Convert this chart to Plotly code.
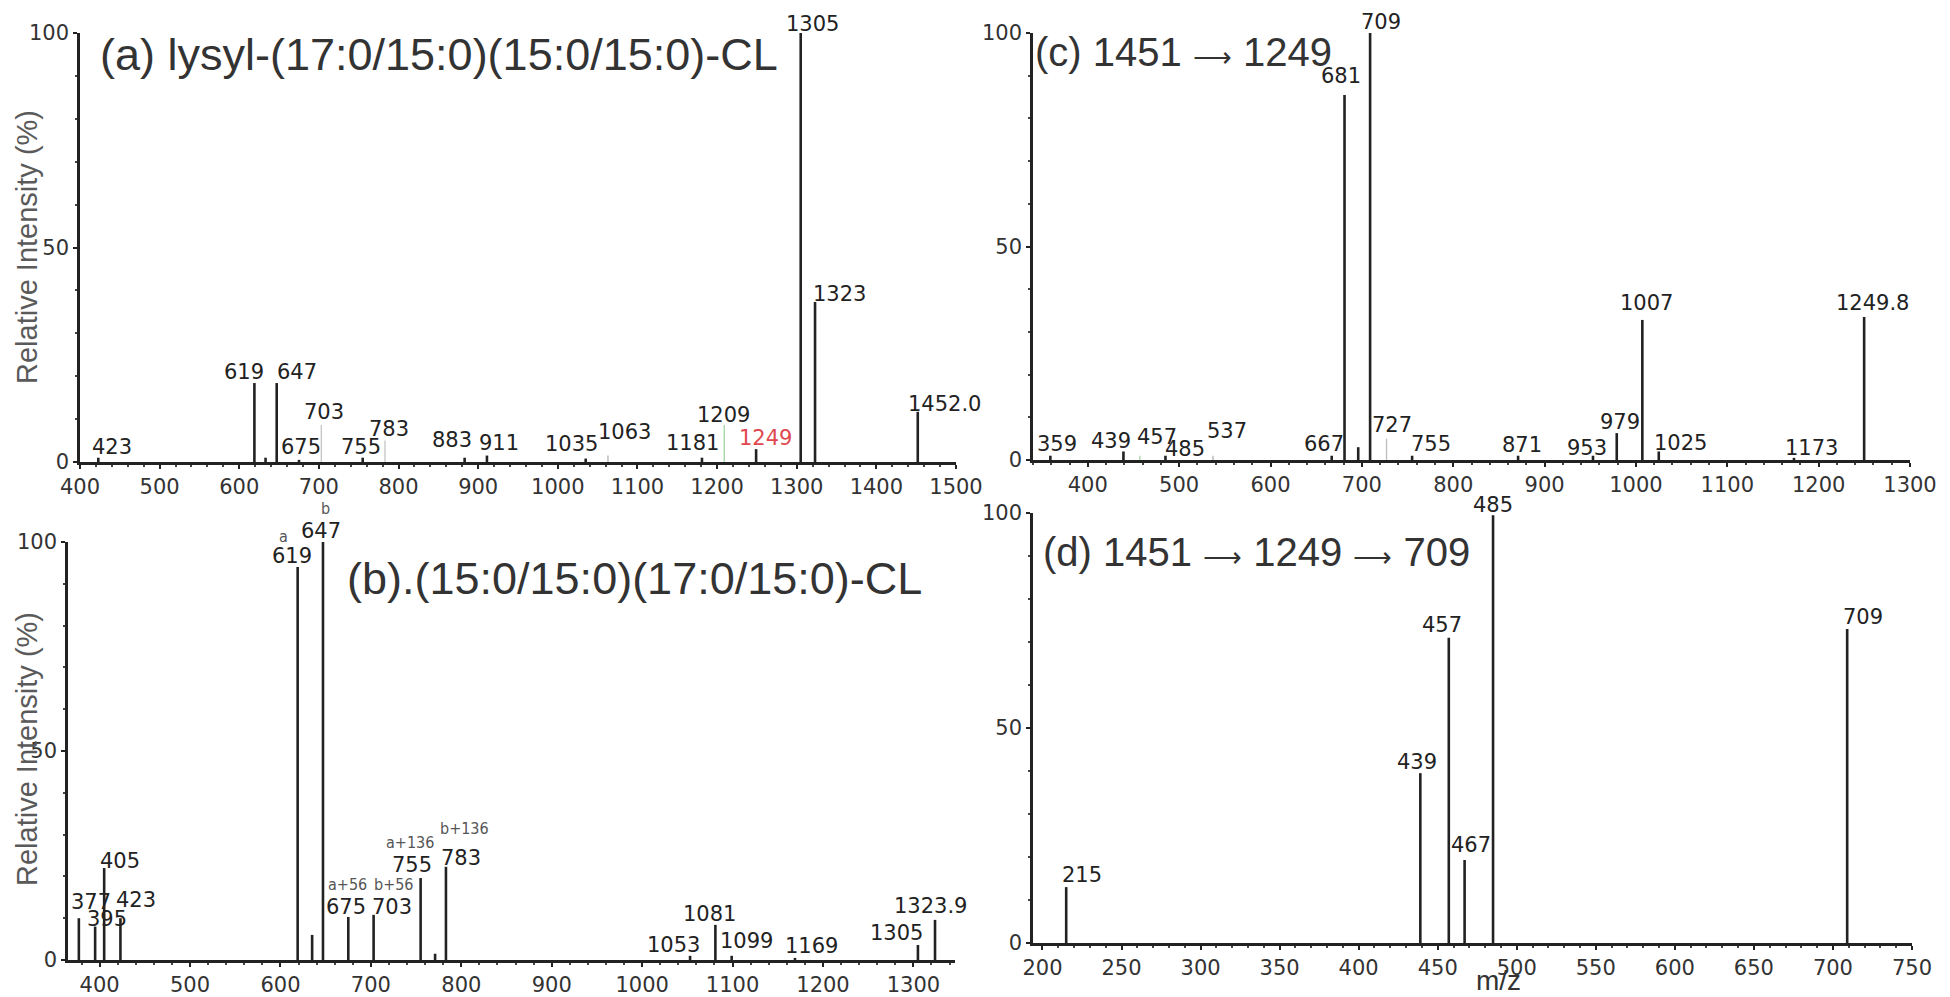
import plotly.graph_objects as go

W, H = 1950, 997
OFF = 8  # page body margin shifts the figure 8 px right and down

# ---- (a) lysyl-(17:0/15:0)(15:0/15:0)-CL
a_mz = [423, 619, 633, 647, 675, 703, 755, 783, 883, 911, 1035, 1063, 1181, 1209, 1249, 1305, 1323, 1452]
a_int = [1, 18.4, 1, 18.4, 0.5, 8.6, 1, 5, 1, 1.5, 0.8, 1.5, 1, 8.6, 3, 100, 37.3, 11.7]
a_lab = ["423", "619", "", "647", "675", "703", "755", "783", "883", "911", "1035", "1063",
         "1181", "1209", "1249", "1305", "1323", "1452.0"]

# ---- (b) (15:0/15:0)(17:0/15:0)-CL
b_mz = [377, 395, 405, 423, 619, 635, 647, 675, 703, 755, 771, 783, 1053, 1081, 1099, 1169, 1305, 1323.9]
b_int = [10, 8, 22, 10, 94, 6, 100, 10.3, 10.8, 19.6, 1.5, 22.3, 1, 8.4, 1, 0.5, 3.6, 9.6]
b_lab = ["377", "395", "405", "423", "619", "", "647", "675", "703", "755", "", "783",
         "1053", "1081", "1099", "1169", "1305", "1323.9"]
b_tag = ["", "", "", "", "a", "", "b", "a+56", "b+56", "a+136", "", "b+136", "", "", "", "", "", ""]

# ---- (c) 1451 -> 1249
c_mz = [359, 439, 457, 485, 537, 667, 681, 696, 709, 727, 755, 871, 953, 979, 1007, 1025, 1173, 1249.8]
c_int = [1, 2, 1, 1, 1, 1, 85.5, 3, 100, 5, 1, 1, 1, 6.3, 32.8, 2, 0.5, 33.5]
c_lab = ["359", "439", "457", "485", "537", "667", "681", "", "709", "727", "755", "871",
         "953", "979", "1007", "1025", "1173", "1249.8"]

# ---- (d) 1451 -> 1249 -> 709
d_mz = [215, 439, 457, 467, 485, 709]
d_int = [13, 39.5, 71, 19.3, 99.5, 73]
d_lab = ["215", "439", "457", "467", "485", "709"]

arrow = " <span style='font-size:27px'>\u27f6</span> "
titles = ["(a) lysyl-(17:0/15:0)(15:0/15:0)-CL", "(b).(15:0/15:0)(17:0/15:0)-CL",
          "(c) 1451" + arrow + "1249", "(d) 1451" + arrow + "1249" + arrow + "709"]

# label offsets in px (dx, dy from the peak top), layout only
a_off = [(14, -11), (-10, -11), None, (20, -11), (2, -13), (3, -13), (-2, -11), (4, -12), (-13, -18),
         (12, -13), (-14, -15), (17, -24), (-9, -15), (-1, -10), (9, -11), (12, -9), (24, -8), (27, -8)]
b_off = [(12, -16), (12, -8), (16, -7), (16, -18), (-6, -11), None, (-2, -11), (-2, -10), (18, -8),
         (-9, -13), None, (15, -9), (-17, -11), (-6, -11), (15, -15), (17, -12), (-21, -12), (-5, -14)]
c_off = [(7, -12), (-12, -10), (17, -19), (20, -7), (14, -25), (-8, -12), (-4, -19), None, (11, -11),
         (5, -14), (19, -12), (4, -11), (-6, -8), (3, -11), (4, -17), (22, -8), (18, -10), (8, -14)]
d_off = [(16, -12), (-3, -11), (-7, -13), (6, -15), (0, -10), (16, -12)]
tag_off = {"a": (-14, -31), "b": (3, -34), "a+56": (-1, -32), "b+56": (20, -30),
           "a+136": (-11, -36), "b+136": (19, -38)}

thin = {"a": {703: "#c4c4c4", 783: "#c4c4c4", 1209: "#9fd49f", 1063: "#b0b0b0"},
        "c": {727: "#bdbdbd", 537: "#b0b0b0", 457: "#a8d8a8"}}
label_color = {"1249": "#e0484f"}

# panel boxes in reference pixels: left, right, top, bottom
panels = [
    dict(key="a", mz=a_mz, it=a_int, lab=a_lab, off=a_off, xr=[400, 1500], dt=100, mn=20,
         box=(80, 956, 33, 462), title=(98, 55, 45)),
    dict(key="b", mz=b_mz, it=b_int, lab=b_lab, off=b_off, xr=[365, 1346], dt=100, mn=20,
         box=(68, 955, 542, 960), title=(345, 578, 45)),
    dict(key="c", mz=c_mz, it=c_int, lab=c_lab, off=c_off, xr=[340, 1300], dt=100, mn=20,
         box=(1033, 1910, 33, 460), title=(1033, 52, 40)),
    dict(key="d", mz=d_mz, it=d_int, lab=d_lab, off=d_off, xr=[194, 750], dt=50, mn=10,
         box=(1033, 1912, 513, 943), title=(1041, 552, 40)),
]


def px(x):
    return (x - OFF) / W


def py(y):
    return 1 - (y - OFF) / H


tick_font = dict(family="DejaVu Sans", size=21, color="#333333")
lab_font = dict(family="DejaVu Sans", size=21, color="#222222")

fig = go.Figure()

for i, p in enumerate(panels):
    n = "" if i == 0 else str(i + 1)
    xr, yr = "x" + n, "y" + n
    l, r, t, b = p["box"]
    fig.update_layout(**{
        "xaxis" + n: dict(domain=[px(l), px(r)], range=p["xr"], anchor=yr, dtick=p["dt"],
                          tick0=0, showline=True, linecolor="#222222", linewidth=2.5,
                          ticks="outside", ticklen=4, tickwidth=1.5, tickcolor="#222222",
                          minor=dict(ticks="outside", dtick=p["mn"], ticklen=2, tickcolor="#444444"),
                          showgrid=False, zeroline=False, tickfont=tick_font),
        "yaxis" + n: dict(domain=[py(b), py(t)], range=[0, 100], anchor=xr,
                          tickvals=[0, 50, 100], showline=True, linecolor="#222222", linewidth=2.5,
                          ticks="outside", ticklen=4, tickwidth=1.5, tickcolor="#222222",
                          minor=dict(ticks="outside", dtick=10, ticklen=2, tickcolor="#444444"),
                          showgrid=False, zeroline=False, tickfont=tick_font),
    })
    cols = thin.get(p["key"], {})
    for j, (m, h) in enumerate(zip(p["mz"], p["it"])):
        col = cols.get(m, "#222222")
        fig.add_trace(go.Scatter(x=[m, m], y=[0, h], mode="lines", xaxis=xr, yaxis=yr,
                                 line=dict(color=col, width=1.3 if m in cols else 2.6),
                                 hoverinfo="skip", showlegend=False))
        txt = p["lab"][j]
        if txt:
            dx, dy = p["off"][j]
            f = dict(lab_font, color=label_color.get(txt, "#222222")) if p["key"] == "a" else lab_font
            fig.add_annotation(x=m, y=h, xref=xr, yref=yr, text=txt, showarrow=False,
                               xshift=dx, yshift=-dy, font=f)
        if p["key"] == "b" and b_tag[j]:
            dx, dy = tag_off[b_tag[j]]
            fig.add_annotation(x=m, y=h, xref=xr, yref=yr, text=b_tag[j], showarrow=False,
                               xshift=dx, yshift=-dy,
                               font=dict(family="DejaVu Sans Condensed, DejaVu Sans", size=16, color="#555555"))
    tx, ty, ts = p["title"]
    fig.add_annotation(x=px(tx), y=py(ty), xref="paper", yref="paper", text=titles[i],
                       showarrow=False, xanchor="left", yanchor="middle",
                       font=dict(family="Arial, Liberation Sans", size=ts, color="#333333"))

for yc in [247, 749]:
    fig.add_annotation(x=px(27), y=py(yc), xref="paper", yref="paper",
                       text="Relative Intensity (%)", textangle=-90, showarrow=False,
                       xanchor="center", yanchor="middle",
                       font=dict(family="Arial, Liberation Sans", size=29, color="#5a5a5a"))

fig.add_annotation(x=px(1498), y=py(980), xref="paper", yref="paper", text="m/z",
                   showarrow=False, xanchor="center", yanchor="middle",
                   font=dict(family="Arial, Liberation Sans", size=28, color="#333333"))

fig.update_layout(width=W, height=H, margin=dict(l=0, r=0, t=0, b=0, autoexpand=False),
                  paper_bgcolor="white", plot_bgcolor="white", showlegend=False)

fig.write_html("out.html")
